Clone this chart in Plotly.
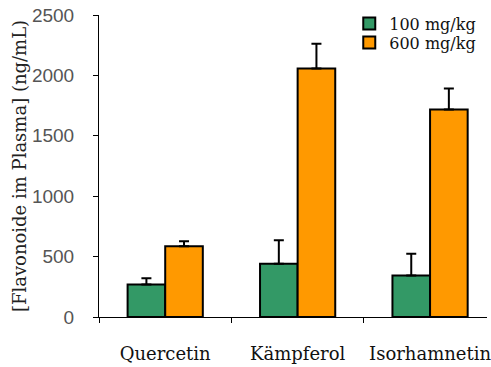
import plotly.graph_objects as go

categories = ["Quercetin", "Kämpferol", "Isorhamnetin"]
dose_100 = [269, 440, 344]
dose_100_err = [52, 196, 179]
dose_600 = [586, 2057, 1718]
dose_600_err = [42, 205, 173]
y_ticks = [0, 500, 1000, 1500, 2000, 2500]

SERIF = "DejaVu Serif"
SANS = "Liberation Sans"

fig = go.Figure()
for name, vals, errs, color, leg in [
    ("100 mg/kg", dose_100, dose_100_err, "#339966", "legend"),
    ("600 mg/kg", dose_600, dose_600_err, "#FF9900", "legend2"),
]:
    fig.add_trace(go.Bar(
        x=categories, y=vals, name=name, legend=leg,
        marker=dict(color=color, line=dict(color="black", width=2)),
        error_y=dict(type="data", array=errs, arrayminus=[0] * len(errs),
                     symmetric=False, color="black", thickness=2, width=5),
    ))

legend_style = dict(xanchor="left", yanchor="middle",
                    font=dict(family=SERIF, size=16, color="#111"),
                    bgcolor="rgba(0,0,0,0)", itemwidth=30)

fig.update_layout(
    width=491, height=367,
    margin=dict(l=99, r=0, t=15, b=50),
    paper_bgcolor="white", plot_bgcolor="white",
    barmode="group", bargap=0.432, bargroupgap=0,
    font=dict(family=SERIF, size=17, color="#222"),
    legend=dict(x=0.645, y=1.0 - 8.5 / 302, **legend_style),
    legend2=dict(x=0.645, y=1.0 - 27.5 / 302, **legend_style),
    showlegend=True,
)
fig.update_xaxes(
    range=[-0.5, 2.43], showline=True, linecolor="black", linewidth=1,
    ticks="outside", tickson="boundaries", ticklen=5, tickcolor="black",
    tickfont=dict(family=SERIF, size=18, color="#111"), ticklabelstandoff=20,
)
fig.update_yaxes(
    range=[0, 2500], tickvals=y_ticks, showline=True, linecolor="black",
    linewidth=1, ticks="outside", ticklen=5, tickcolor="black",
    showgrid=False, zeroline=False,
    tickfont=dict(family=SANS, size=19, color="#555"), ticklabelstandoff=15,
    title=dict(text="[Flavonoide im Plasma] (ng/mL)", standoff=0,
               font=dict(family=SERIF, size=18, color="#222")),
)

fig.write_html("out.html")
